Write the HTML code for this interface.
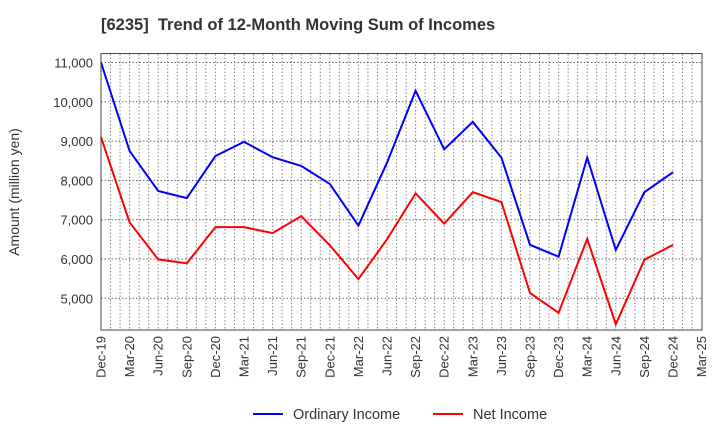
<!DOCTYPE html>
<html><head><meta charset="utf-8"><style>
body{margin:0;background:#fff;}
svg{font-family:"Liberation Sans",sans-serif;display:block;}
</style></head><body>
<svg id="chart" width="720" height="440">
<text x="101" y="30" font-size="16.5" font-weight="bold" fill="#333" xml:space="preserve">[6235]  Trend of 12-Month Moving Sum of Incomes</text>
<text transform="translate(19,192) rotate(-90)" text-anchor="middle" font-size="14" fill="#333">Amount (million yen)</text>
<g id="grid"></g><g id="yt"></g><g id="xt"></g><g id="series"></g>
<rect x="101" y="53.5" width="601" height="276.5" fill="none" stroke="#444" stroke-width="1"/>
<g>
<line x1="253" y1="414" x2="283" y2="414" stroke="#0000ff" stroke-width="2"/>
<text x="293" y="419" font-size="14.5" fill="#333">Ordinary Income</text>
<line x1="433" y1="414" x2="463" y2="414" stroke="#ff0000" stroke-width="2"/>
<text x="473" y="419" font-size="14.5" fill="#333">Net Income</text>
</g>
</svg>
<script>
const categories=["Dec-19","Mar-20","Jun-20","Sep-20","Dec-20","Mar-21","Jun-21","Sep-21","Dec-21","Mar-22","Jun-22","Sep-22","Dec-22","Mar-23","Jun-23","Sep-23","Dec-23","Mar-24","Jun-24","Sep-24","Dec-24","Mar-25"];
const ordinaryIncome=[11000,8750,7730,7550,8620,8980,8590,8370,7910,6850,8450,10280,8790,9490,8580,6360,6060,8580,6230,7700,8210];
const netIncome=[9100,6930,5990,5890,6810,6810,6660,7090,6350,5490,6500,7670,6900,7700,7450,5135,4630,6510,4340,5980,6360];
const yTicks=[5000,6000,7000,8000,9000,10000,11000];
const NS="http://www.w3.org/2000/svg";
const X0=101,DX=28.6,Y5=298.3,PY=0.0393;
function xs(i){return X0+i*DX;}
function ys(v){return Y5-(v-5000)*PY;}
function mk(t,a,p){const e=document.createElementNS(NS,t);for(const k in a)e.setAttribute(k,a[k]);p.appendChild(e);return e;}
const grid=document.getElementById('grid');
for(let m=1;m<(categories.length-1)*3;m++){const x=X0+m*DX/3;
const l=mk('line',{x1:x,y1:54,x2:x,y2:330,stroke:'#888','stroke-width':1,'stroke-dasharray':'1.5,2'},grid);

}
const yt=document.getElementById('yt');
yTicks.forEach(v=>{const y=ys(v);
const l=mk('line',{x1:101,y1:y,x2:702,y2:y,stroke:'#666','stroke-width':1,'stroke-dasharray':'1.5,2'},grid);


const t=mk('text',{x:93,y:y+5,'text-anchor':'end','font-size':13,fill:'#333'},yt);
t.textContent=v.toLocaleString('en-US');

});
const xt=document.getElementById('xt');
categories.forEach((c,i)=>{const x=xs(i);
const t=mk('text',{transform:`translate(${x+4.5},336) rotate(-90)`,'text-anchor':'end','font-size':13,fill:'#333'},xt);
t.textContent=c;

});
const sg=document.getElementById('series');
function line(d,col,name){const p=mk('polyline',{points:d.map((v,i)=>xs(i)+','+ys(v)).join(' '),fill:'none',stroke:col,'stroke-width':2,'stroke-linejoin':'miter'},sg);

}
line(ordinaryIncome,'#0000ff','ordinary-income-line');
line(netIncome,'#ff0000','net-income-line');
</script>
</body></html>
